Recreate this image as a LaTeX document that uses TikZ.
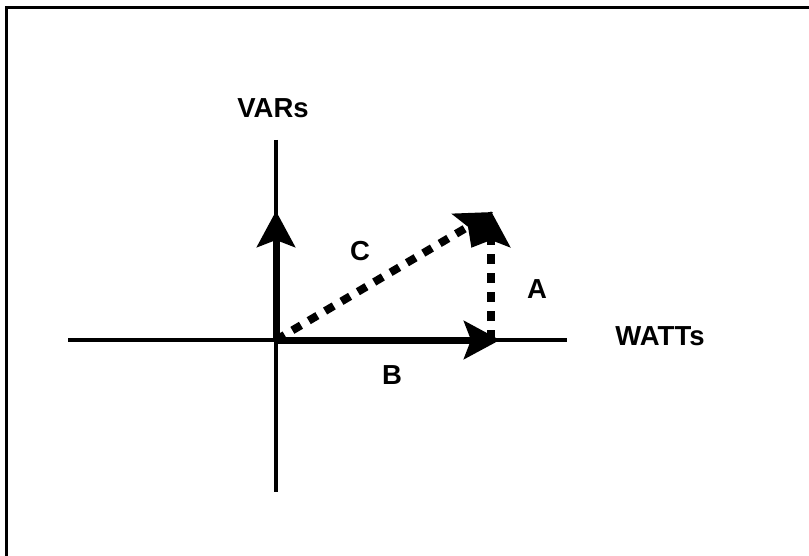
\documentclass[tikz,border=0pt]{standalone}
\usepackage{fontspec}
\setmainfont{Liberation Sans}
\usetikzlibrary{arrows.meta}

\tikzset{
  axis/.style={line width=3.5pt},
  vec/.style={line width=7pt,-{Stealth[length=36pt,width=38pt,inset=7pt]}},
  dashvec/.style={vec,line width=8pt,dash pattern=on 10pt off 9pt},
  lbl/.style={font=\fontsize{27.5}{30}\selectfont\bfseries,inner sep=0pt}
}

\begin{document}
\begin{tikzpicture}[x=1pt,y=-1pt]
\useasboundingbox (0,0) rectangle (809,556);
% frame
\draw[line width=3pt] (6,556) -- (6,8) -- (812,8);
% axes
\coordinate (o) at (276,340);
\coordinate (xl) at (68,340);
\coordinate (xr) at (567,340);
\coordinate (yt) at (276,140);
\coordinate (yb) at (276,492);
\draw[axis] (xl) -- (xr);
\draw[axis] (yt) -- (yb);
% vectors
\coordinate (vt) at (276,211);
\coordinate (bt) at (500,340);
\coordinate (ab) at (491,340);
\coordinate (at) at (491,211);
\coordinate (ct) at (493,212);
\draw[vec] (o) -- (vt);
\draw[vec] (o) -- (bt);
\draw[dashvec] (ab) -- (at);
\draw[dashvec] (o) -- (ct);
% labels
\node[lbl] (vars) at (273,108) {VARs};
\node[lbl] (watts) at (660,336) {WATTs};
\node[lbl] (c) at (360,251) {C};
\node[lbl] (a) at (537,289) {A};
\node[lbl] (b) at (392,375) {B};
\end{tikzpicture}
\end{document}
